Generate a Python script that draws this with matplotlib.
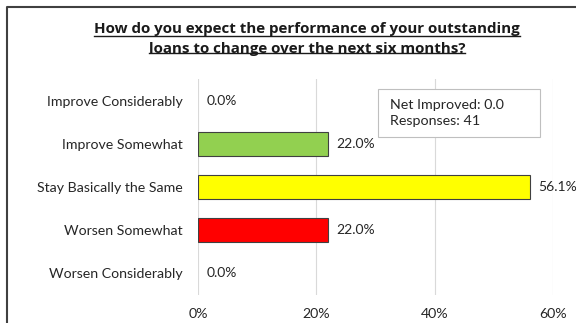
import matplotlib.pyplot as plt
from matplotlib.lines import Line2D
from matplotlib.patches import Rectangle
from matplotlib.ticker import PercentFormatter

categories = ['Improve Considerably', 'Improve Somewhat', 'Stay Basically the Same',
              'Worsen Somewhat', 'Worsen Considerably']
shares = [0.0, 22.0, 56.1, 22.0, 0.0]  # percent of responses
bar_colors = ['#92D050', '#92D050', '#FFFF00', '#FF0000', '#FF0000']
net_improved = 0.0
responses = 41
title = ('How do you expect the performance of your outstanding\n'
         'loans to change over the next six months?')

plt.rcParams['font.family'] = ['Lato', 'DejaVu Sans']
W, H = 576, 323

fig = plt.figure(figsize=(W / 100, H / 100), dpi=100)
ax = fig.add_axes([198 / W, 1 - 294.5 / H, (553 - 198) / W, 215 / H])

pos = range(len(categories))
edge_w = [0.8 if v > 0 else 0 for v in shares]
ax.barh(pos, shares, height=0.58, color=bar_colors, edgecolor='#404040', linewidth=edge_w, zorder=3)
ax.set_ylim(len(categories) - 0.5, -0.5)
ax.set_yticks(list(pos))
ax.set_yticklabels(categories, fontsize=10.2, color='#262626')
ax.set_xlim(0, 60)
ax.set_xticks([0, 20, 40, 60])
ax.xaxis.set_major_formatter(PercentFormatter(decimals=0))
ax.tick_params(axis='both', length=0, labelsize=10.2, colors='#262626')
ax.tick_params(axis='x', pad=10)
ax.tick_params(axis='y', pad=11)
ax.grid(axis='x', color='#d9d9d9', linewidth=0.8, zorder=0)
for s in ax.spines.values():
    s.set_visible(False)

for i, v in enumerate(shares):
    ax.annotate(f'{v:.1f}%', (v, i), xytext=(6, 0), textcoords='offset points',
                va='center', ha='left', fontsize=10, color='#262626')

# summary box
fig.add_artist(Rectangle((378 / W, 1 - 137 / H), 162 / W, 48 / H, transform=fig.transFigure,
                         fc='white', ec='#bfbfbf', lw=0.8, zorder=5))
fig.text(390 / W, 1 - 113 / H, f'Net Improved: {net_improved:.1f}\nResponses: {responses}',
         fontsize=10.3, color='#262626', va='center', ha='left', linespacing=1.35, zorder=6)

# title, underlined line by line
tfont = dict(fontsize=10.9, fontweight='bold', family=['Open Sans', 'DejaVu Sans'])
t = fig.text(307 / W, 1 - 39 / H, title, ha='center', va='center', linespacing=1.55,
             color='#1a1a1a', **tfont)
fig.canvas.draw()
r = fig.canvas.get_renderer()
bb = t.get_window_extent(r)
line_h = bb.height / 2
cx = (bb.x0 + bb.x1) / 2
for k, line in enumerate(title.split('\n')):
    tmp = fig.text(0, 0, line, **tfont)
    w = tmp.get_window_extent(r).width
    tmp.remove()
    y = bb.y1 - (k + 1) * line_h + 3
    fig.add_artist(Line2D([(cx - w / 2) / W, (cx + w / 2) / W], [y / H, y / H],
                          color='#1a1a1a', lw=1.0))

# outer frame
fig.add_artist(Line2D([7 / W, 7 / W, 1], [0, 1 - 7 / H, 1 - 7 / H],
                      color='#404040', lw=1.5))

fig.savefig('out.png', dpi=100)
